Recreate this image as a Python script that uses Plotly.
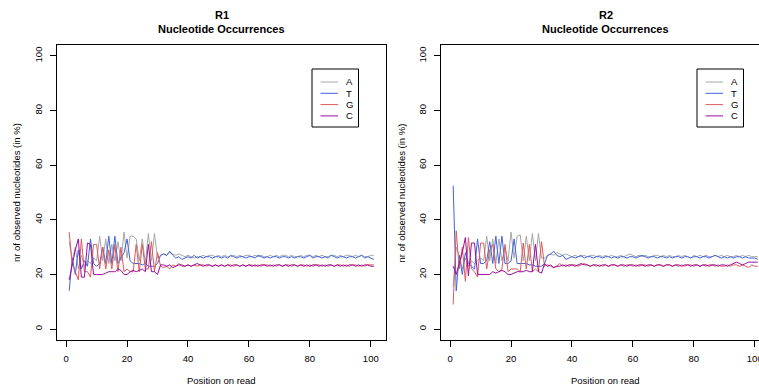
import plotly.graph_objects as go

positions = list(range(1, 102))

A_R1 = [32, 25, 30, 22, 27, 23, 25, 24, 26, 25,
        34, 25, 33, 24, 31, 25, 32, 25, 35.5, 26,
        34, 34, 33, 25, 33, 24, 35, 25, 35, 26,
        27, 27.5, 27, 28, 27.5, 27, 27.5, 27, 26.5, 27,
        26.5, 26, 26.5, 26.5, 27, 26.5, 27, 27, 26.5, 27,
        26.5, 27, 26.5, 26.5, 27, 26.5, 27, 26.5, 27, 27,
        26.5, 27, 26.5, 27, 26.5, 26.5, 27, 26.5, 27, 26.5,
        27, 27, 26.5, 27, 26.5, 26.5, 27, 26.5, 27, 27,
        26.5, 27, 26.5, 27, 26.5, 26.5, 27, 27, 26.5, 27,
        26.5, 27, 27, 26.5, 27, 26.5, 27, 26.5, 26.5, 27,
        27]
T_R1 = [14, 26, 20, 29, 22, 25, 23, 33, 24, 23,
        24, 30, 24, 34, 24, 34, 24, 26, 28, 33,
        25, 24, 24, 24, 23.5, 24, 23, 23, 23, 24,
        27, 27.5, 27, 28.5, 27, 26, 26.5, 25.5, 26, 26.5,
        26, 27, 26, 26.5, 26, 26.5, 26.5, 26, 26.5, 26.5,
        26, 26.5, 26, 27, 26.5, 26, 26.5, 26.5, 26, 26.5,
        26.5, 26, 27, 26.5, 26, 26.5, 26, 26.5, 26.5, 26,
        26.5, 26.5, 26, 26.5, 26, 26.5, 26.5, 26, 26.5, 27,
        26, 26.5, 26.5, 26, 26.5, 26, 27, 26.5, 26, 26.5,
        26.5, 26, 26.5, 26.5, 26, 26.5, 27, 26, 26.5, 26,
        25.5]
G_R1 = [35.5, 24, 21, 18, 33, 21, 21, 19, 31, 31,
        22, 30, 22, 29, 22, 31, 21, 30, 21, 22,
        21, 21, 31, 21, 31, 22, 22, 32, 21, 28,
        23, 22.5, 23, 22, 23.5, 23, 24, 23, 23, 23.5,
        23, 23.5, 23, 23.5, 23.5, 23, 23.5, 23, 23.5, 23,
        23.5, 23, 23.5, 23.5, 23, 23.5, 23, 23.5, 23, 23.5,
        23.5, 23, 23.5, 23, 23.5, 23.5, 23, 23.5, 23, 23.5,
        23, 23.5, 23.5, 23, 23.5, 23, 23.5, 23.5, 23, 23.5,
        23, 23.5, 23.5, 23, 23.5, 23, 23.5, 23, 23.5, 23.5,
        23, 23.5, 23, 23.5, 23.5, 23, 23.5, 23, 23.5, 23.5,
        23.5]
C_R1 = [18, 24, 29, 33, 19, 19, 31.5, 31, 20, 20,
        20, 20, 20.5, 21, 21, 21, 22, 21.5, 20, 20,
        21, 21.5, 21, 21.5, 22, 21, 31, 21, 21, 20,
        23.5, 23.5, 23, 23.5, 22.5, 23, 23.5, 23.5, 23, 23.5,
        23, 23.5, 24, 23.5, 23, 23.5, 23.5, 23, 23.5, 23,
        23.5, 23, 23.5, 23, 23.5, 23.5, 23, 23.5, 23, 23.5,
        23, 23.5, 23, 23.5, 23.5, 23, 23.5, 23, 23.5, 23.5,
        23, 23.5, 23, 23.5, 23.5, 23, 23.5, 23, 23.5, 23,
        23.5, 23.5, 23, 23.5, 23, 23.5, 23.5, 23, 23.5, 23,
        23.5, 23, 23.5, 23.5, 23, 23.5, 23, 23.5, 23.5, 23,
        23]

A_R2 = [15.5, 30, 27, 22, 26, 23, 25, 24, 25, 26,
        25, 34, 25, 33, 24, 33, 25, 30, 25, 35.5,
        26, 34, 34.5, 25, 34, 25, 35, 25, 35, 26,
        26, 27, 27.5, 27, 28, 27.5, 27, 27.5, 27, 26.5,
        27, 26.5, 26.5, 27, 26.5, 27, 27, 26.5, 27, 26.5,
        27, 26.5, 27, 26.5, 26.5, 27, 26.5, 27, 27.5, 27,
        26.5, 27, 26.5, 27, 26.5, 26.5, 27, 27, 26.5, 27,
        26.5, 27, 26.5, 26.5, 27, 26.5, 27, 26.5, 26, 27,
        26.5, 27, 26.5, 27, 26.5, 26.5, 27, 26.5, 27, 26.5,
        27, 26.5, 26.5, 27, 26.5, 27, 26.5, 27, 26.5, 26.5,
        26.5]
T_R2 = [52.5, 14, 27, 20, 28, 24, 23, 22, 33, 24,
        24, 25, 32, 24, 34, 24, 34, 24, 24, 25,
        33, 24, 24, 24, 24, 23.5, 23.5, 23, 23, 23,
        24, 27, 27.5, 28.5, 27, 26.5, 27, 25.5, 26, 26.5,
        26, 26.5, 27, 26, 26.5, 26.5, 26, 26.5, 26.5, 26,
        26.5, 26.5, 26, 26.5, 26, 26.5, 26.5, 26, 26.5, 26.5,
        26, 26.5, 27, 26.5, 26, 26.5, 26.5, 26, 26.5, 26.5,
        26, 26.5, 26, 26.5, 26.5, 26, 26.5, 26.5, 26, 26.5,
        26.5, 26, 26.5, 26.5, 26, 26.5, 27, 26.5, 26, 26.5,
        26, 26.5, 26, 26.5, 26.5, 26, 26.5, 26, 26, 26,
        25.5]
G_R2 = [9, 36, 22, 30, 17.5, 33.5, 22, 21, 19, 31.5,
        31.5, 22, 29, 31, 22, 21, 22, 31, 21, 22,
        22, 22, 21, 31.5, 22, 31, 21, 22, 21, 32,
        23, 23.5, 23, 22.5, 23, 24, 23, 23.5, 23, 23.5,
        23.5, 23, 23.5, 24, 23.5, 23, 23.5, 23, 23.5, 23,
        23.5, 23, 23.5, 23.5, 23, 23.5, 23, 23.5, 23.5, 23,
        23.5, 23, 23.5, 23.5, 23, 23.5, 23, 23.5, 23.5, 23,
        23.5, 23.5, 23, 23.5, 23, 23.5, 23, 23.5, 23.5, 23,
        23.5, 23, 23.5, 23, 23.5, 23.5, 23, 23.5, 23, 23,
        23.5, 23, 23.5, 23.5, 23, 23.5, 23, 22.5, 23.5, 23,
        23]
C_R2 = [23, 20, 24, 28, 33.5, 19.5, 31.5, 31.5, 20, 20,
        20, 20, 20, 21, 20.5, 21, 21.5, 21, 20, 20,
        20.5, 21, 21, 21, 21.5, 21, 21, 31, 21, 20.5,
        24, 23, 23.5, 22.5, 23, 23, 23.5, 23, 23.5, 23.5,
        23, 23.5, 24, 23.5, 23.5, 23, 23.5, 23.5, 23, 23.5,
        23.5, 23, 23.5, 23.5, 23, 23.5, 23.5, 23, 23.5, 23.5,
        23, 23.5, 23.5, 23, 23.5, 23.5, 23, 23.5, 23.5, 23,
        23.5, 23.5, 23, 23.5, 23.5, 23, 23.5, 23.5, 23, 23.5,
        23.5, 23, 23.5, 23.5, 23, 23.5, 23.5, 23, 23.5, 23.5,
        23, 23.5, 24, 24.5, 24, 23.5, 24, 24.5, 24.5, 24.5,
        24.5]

nucleotides = ["A", "T", "G", "C"]
colors = {"A": "#A6A6A6", "T": "#3F64E0", "G": "#DE5A5A", "C": "#9A0C9E"}
panels = [("R1", {"A": A_R1, "T": T_R1, "G": G_R1, "C": C_R1}),
          ("R2", {"A": A_R2, "T": T_R2, "G": G_R2, "C": C_R2})]

W, H = 759, 385
FONT = "Liberation Sans, Arial, Helvetica, sans-serif"

def px(x):
    return x / W

def py(y):
    return 1 - y / H

fig = go.Figure()
for i, (name, series) in enumerate(panels):
    xa = "x" if i == 0 else "x2"
    ya = "y" if i == 0 else "y2"
    for nt in nucleotides:
        fig.add_trace(go.Scatter(x=positions, y=series[nt], mode="lines", name=nt,
                                 line=dict(color=colors[nt], width=1),
                                 xaxis=xa, yaxis=ya, showlegend=False,
                                 hoverinfo="skip"))

# panel geometry (px)
box_left = [57, 441]
box_right = [386, 759]
top, bottom = 45, 340
xranges = [[-3, 105], [-3, 101.4]]

axis_common = dict(showgrid=False, zeroline=False, showline=True, linecolor="black",
                   linewidth=1, ticks="outside", ticklen=6, tickwidth=1, tickcolor="black",
                   ticklabeloverflow="allow", automargin=False,
                   tickfont=dict(family=FONT, size=9.5, color="black"))

layout = dict(width=W, height=H, margin=dict(l=0, r=0, t=0, b=0, autoexpand=False),
              paper_bgcolor="white", plot_bgcolor="white", showlegend=False,
              font=dict(family=FONT, color="black"))
for i in range(2):
    sfx = "" if i == 0 else "2"
    layout["xaxis" + sfx] = dict(axis_common, domain=[px(box_left[i]), px(box_right[i])],
                                 range=xranges[i], tickvals=[0, 20, 40, 60, 80, 100],
                                 anchor="y" + sfx, mirror=True, ticklabelstandoff=4)
    layout["yaxis" + sfx] = dict(axis_common, domain=[py(bottom), py(top)],
                                 range=[-4, 104], tickvals=[0, 20, 40, 60, 80, 100],
                                 tickangle=-90, anchor="x" + sfx, mirror=(i == 0),
                                 ticklabelstandoff=4)
fig.update_layout(**layout)

annotations = []
shapes = []
for i, (name, series) in enumerate(panels):
    cx = (box_left[i] + (386 if i == 0 else 770)) / 2
    annotations.append(dict(x=px(cx), y=py(15), xref="paper", yref="paper", text="<b>%s</b>" % name,
                            showarrow=False, xanchor="center", yanchor="middle",
                            font=dict(family=FONT, size=11, color="black")))
    annotations.append(dict(x=px(cx), y=py(29), xref="paper", yref="paper",
                            text="<b>Nucleotide Occurrences</b>", showarrow=False,
                            xanchor="center", yanchor="middle",
                            font=dict(family=FONT, size=11, color="black")))
    annotations.append(dict(x=px(cx), y=py(380), xref="paper", yref="paper",
                            text="Position on read", showarrow=False,
                            xanchor="center", yanchor="middle",
                            font=dict(family=FONT, size=9.5, color="black")))
    ytx = 17 if i == 0 else 401.5
    annotations.append(dict(x=px(ytx), y=py(193), xref="paper", yref="paper",
                            text="nr of observed nucleotides (in %)", showarrow=False,
                            textangle=-90, xanchor="center", yanchor="middle",
                            font=dict(family=FONT, size=9.5, color="black")))
    # legend box
    lx0 = 312 if i == 0 else 697
    lx1 = lx0 + 46.5
    shapes.append(dict(type="rect", xref="paper", yref="paper",
                       x0=px(lx0), x1=px(lx1), y0=py(127), y1=py(69),
                       line=dict(color="black", width=1), fillcolor="white"))
    for k, nt in enumerate(nucleotides):
        yy = 82 + k * 11.3
        shapes.append(dict(type="line", xref="paper", yref="paper",
                           x0=px(lx0 + 8.5), x1=px(lx0 + 26), y0=py(yy), y1=py(yy),
                           line=dict(color=colors[nt], width=1)))
        annotations.append(dict(x=px(lx0 + 37), y=py(yy), xref="paper", yref="paper",
                                text=nt, showarrow=False, xanchor="center", yanchor="middle",
                                font=dict(family=FONT, size=9.5, color="black")))

fig.update_layout(annotations=annotations, shapes=shapes)
fig.write_html("out.html")
